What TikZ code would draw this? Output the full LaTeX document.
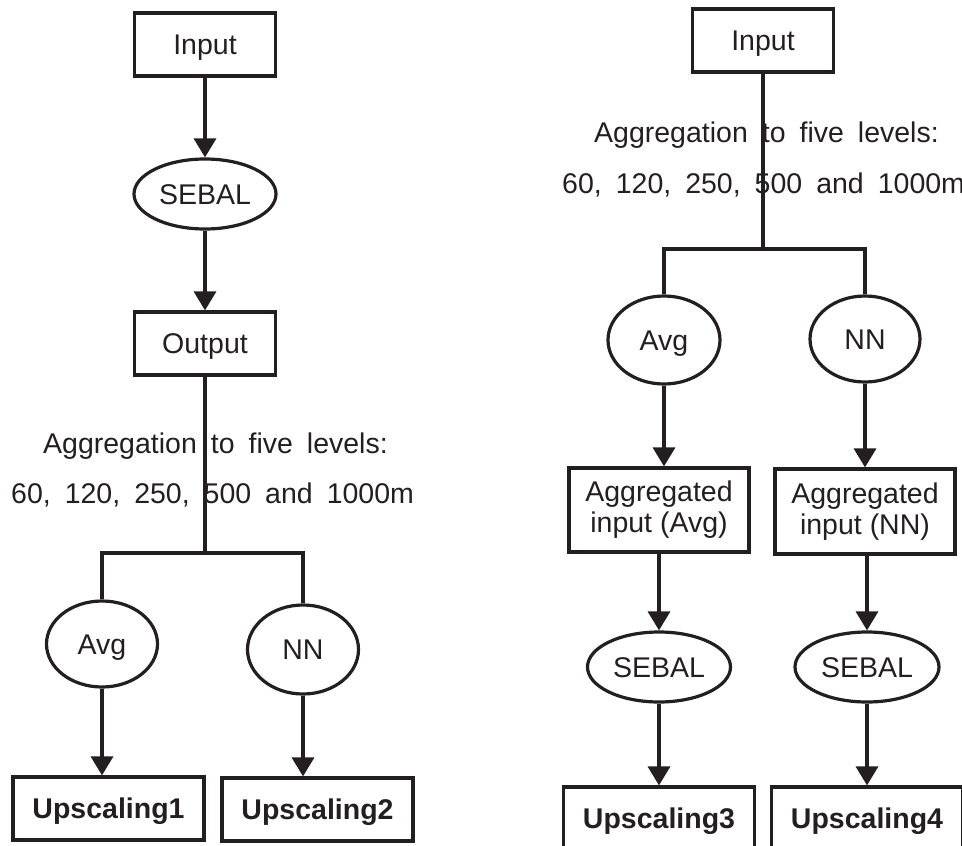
\documentclass[tikz,border=0pt]{standalone}
\usepackage{fontspec}
\setmainfont{Liberation Sans}
\usetikzlibrary{shapes.geometric,arrows.meta}
\definecolor{ink}{RGB}{35,31,32}
\newcommand{\widesp}{\spaceskip=14pt plus 0pt minus 0pt\relax}
\begin{document}
\begin{tikzpicture}[x=1pt,y=-1pt,
  base/.style={draw=ink, line width=3.2pt, inner sep=0pt, text=ink, font=\fontsize{28.5}{31}\selectfont},
  box/.style={base, rectangle},
  ell/.style={base, ellipse},
  one/.style={text height=20pt, text depth=0pt},
  arr/.style={draw=ink, line width=3.4pt, -{Triangle[width=22pt 0,length=19pt 0]}},
  ln/.style={draw=ink, line width=3.4pt, line join=miter},
  lbl/.style={inner sep=0pt, anchor=base west, text=ink, font=\fontsize{28.5}{31}\selectfont}]
\useasboundingbox (0,0) rectangle (962,846);
% ---------------- left flow ----------------
\node[box, one, minimum width=141pt, minimum height=63pt] (in1) at (205,44.5) {Input};
\node[ell, one, minimum width=142pt, minimum height=70pt] (seb1) at (205,194) {SEBAL};
\node[box, one, minimum width=141pt, minimum height=63pt] (out1) at (205,343.5) {Output};
\coordinate (j1) at (205,553);
\node[lbl] (t1a) at (43,453) {\widesp Aggregation to five levels:};
\node[lbl] (t1b) at (11,503) {\widesp 60, 120, 250, 500 and 1000m};
\node[ell, one, minimum width=111pt, minimum height=86pt] (avg1) at (102,644) {Avg};
\node[ell, one, minimum width=111pt, minimum height=89pt] (nn1) at (303,649.5) {NN};
\node[box, one, minimum width=191pt, minimum height=63pt, font=\fontsize{28.5}{31}\selectfont\bfseries] (up1) at (108.5,808.5) {Upscaling1};
\node[box, one, minimum width=191pt, minimum height=63pt, font=\fontsize{28.5}{31}\selectfont\bfseries] (up2) at (317.5,809.5) {Upscaling2};
\draw[arr] (in1) -- (seb1);
\draw[arr] (seb1) -- (out1);
\draw[ln] (out1) -- (j1);
\draw[ln] (avg1) |- (j1) -| (nn1);
\draw[arr] (avg1) -- (avg1 |- up1.north);
\draw[arr] (nn1) -- (nn1 |- up2.north);
% ---------------- right flow ----------------
\node[box, one, minimum width=141pt, minimum height=63pt] (in2) at (763,40.5) {Input};
\coordinate (j2) at (763,249);
\node[lbl] (t2a) at (594,142) {\widesp Aggregation to five levels:};
\node[lbl] (t2b) at (562,193) {\widesp 60, 120, 250, 500 and 1000m};
\node[ell, one, minimum width=112pt, minimum height=88pt] (avg2) at (664,340) {Avg};
\node[ell, one, minimum width=110pt, minimum height=86pt] (nn2) at (865,339) {NN};
\node[box, align=center, minimum width=180pt, minimum height=84pt] (ag2a) at (659,510) {Aggregated\\input (Avg)};
\node[box, align=center, minimum width=180pt, minimum height=85pt] (ag2b) at (865,511.5) {Aggregated\\input (NN)};
\node[ell, one, minimum width=143pt, minimum height=70pt] (seb2a) at (659,667) {SEBAL};
\node[ell, one, minimum width=144pt, minimum height=70pt] (seb2b) at (867,667) {SEBAL};
\node[box, one, minimum width=191pt, minimum height=63pt, font=\fontsize{28.5}{31}\selectfont\bfseries] (up3) at (659,818.5) {Upscaling3};
\node[box, one, minimum width=191pt, minimum height=63pt, font=\fontsize{28.5}{31}\selectfont\bfseries] (up4) at (867,818.5) {Upscaling4};
\draw[ln] (in2) -- (j2);
\draw[ln] (avg2) |- (j2) -| (nn2);
\draw[arr] (avg2) -- (avg2 |- ag2a.north);
\draw[arr] (nn2) -- (nn2 |- ag2b.north);
\draw[arr] (ag2a) -- (seb2a);
\draw[arr] (ag2b.south -| seb2b) -- (seb2b);
\draw[arr] (seb2a) -- (up3);
\draw[arr] (seb2b) -- (up4);
\end{tikzpicture}
\end{document}
